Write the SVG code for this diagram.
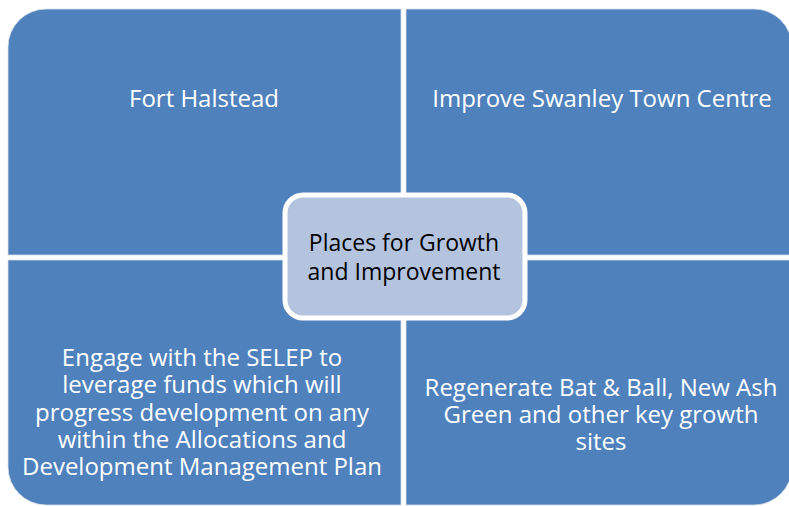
<svg xmlns="http://www.w3.org/2000/svg" width="789" height="506" viewBox="0 0 789 506">
<style>
.q{fill:#4f81bd;stroke:#d6dde8;stroke-width:0.8}
.qt{font-family:"Open Sans","Liberation Sans",sans-serif;font-size:24px;fill:#ffffff;text-anchor:middle}
.c{fill:#b4c4df;stroke:#ffffff;stroke-width:5}
.ct{font-family:"Open Sans","Liberation Sans",sans-serif;font-size:23px;fill:#000000;text-anchor:middle}
</style>
<rect width="789" height="506" fill="#ffffff"/>
<g id="fort-halstead">
<path class="q" d="M8,47 A38,38 0 0 1 46,9 H401 V255 H8 Z"/>
<text class="qt" x="204" y="107">Fort Halstead</text>
</g>
<g id="swanley">
<path class="q" d="M406,9 H754 A38,38 0 0 1 792,47 V255 H406 Z"/>
<text class="qt" x="602" y="107" font-size="23.5">Improve Swanley Town Centre</text>
</g>
<g id="selep">
<path class="q" d="M8,260 H401 V505 H46 A38,38 0 0 1 8,467 Z"/>
<text class="qt" x="202" y="366">Engage with the SELEP to</text>
<text class="qt" x="202" y="393">leverage funds which will</text>
<text class="qt" x="202" y="421">progress development on any</text>
<text class="qt" x="202" y="448">within the Allocations and</text>
<text class="qt" x="202" y="475">Development Management Plan</text>
</g>
<g id="regenerate">
<path class="q" d="M406,260 H792 V467 A38,38 0 0 1 754,505 H406 Z"/>
<text class="qt" x="601" y="396">Regenerate Bat &amp; Ball, New Ash</text>
<text class="qt" x="601" y="423">Green and other key growth</text>
<text class="qt" x="601" y="450">sites</text>
</g>
<g id="center">
<rect class="c" x="285" y="195" width="240" height="123" rx="18"/>
<text class="ct" x="404" y="251">Places for Growth</text>
<text class="ct" x="404" y="280">and Improvement</text>
</g>
</svg>
